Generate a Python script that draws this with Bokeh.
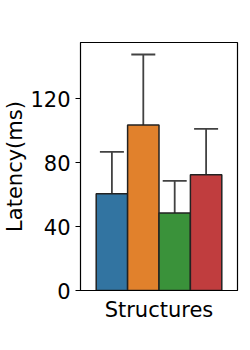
from bokeh.plotting import figure
from bokeh.models import ColumnDataSource, FactorRange, Range1d, Whisker, TeeHead, FixedTicker
from bokeh.transform import dodge
from bokeh.embed import file_html
from bokeh.resources import INLINE

category = ["Structures"]
series = ["s1", "s2", "s3", "s4"]
means = [60.4, 103.5, 48.5, 72.3]
lower = [34.2, 59.4, 29.4, 43.5]
upper = [86.7, 147.5, 68.5, 101.0]
colors = ["#3274a1", "#e1812c", "#3a923a", "#c03d3e"]
y_ticks = [0, 40, 80, 120]

FONT = "DejaVu Sans"

p = figure(x_range=FactorRange(factors=category, range_padding=0),
           y_range=Range1d(0, 155),
           width=240, height=334,
           min_border_left=71, min_border_right=3,
           min_border_top=42, min_border_bottom=44,
           output_backend="svg", toolbar_location=None)

p.grid.visible = False
p.outline_line_color = "black"
p.outline_line_width = 1.2
p.background_fill_color = "white"
p.border_fill_color = "white"

bw = 0.8 / len(series)
for i, s in enumerate(series):
    off = (i - (len(series) - 1) / 2) * bw
    src = ColumnDataSource(dict(x=category, top=[means[i]],
                                lower=[lower[i]], upper=[upper[i]]))
    p.vbar(x=dodge("x", off, range=p.x_range), top="top", bottom=0,
           width=bw, source=src, fill_color=colors[i],
           line_color="#222222", line_width=1.5)
    w = Whisker(source=src, base=dodge("x", off, range=p.x_range),
                upper="upper", lower="lower",
                line_color="#424242", line_width=1.8,
                upper_head=TeeHead(size=24, line_color="#424242", line_width=1.8),
                lower_head=TeeHead(size=24, line_color="#424242", line_width=1.8))
    p.add_layout(w)

p.yaxis.ticker = FixedTicker(ticks=y_ticks)
p.yaxis.minor_tick_line_color = None
p.yaxis.major_tick_out = 5
p.yaxis.major_tick_in = 0
p.yaxis.major_label_text_font = FONT
p.yaxis.major_label_text_font_size = "21px"
p.yaxis.major_label_text_color = "black"
p.yaxis.major_label_standoff = 5
p.yaxis.axis_label = "Latency(ms)"
p.yaxis.axis_label_text_font = FONT
p.yaxis.axis_label_text_font_size = "21px"
p.yaxis.axis_label_text_font_style = "normal"
p.yaxis.axis_label_text_color = "black"
p.yaxis.axis_label_standoff = 0
p.yaxis.axis_line_color = "black"

p.xaxis.major_tick_line_color = None
p.xaxis.minor_tick_line_color = None
p.xaxis.major_label_text_font = FONT
p.xaxis.major_label_text_font_size = "21px"
p.xaxis.major_label_text_color = "black"
p.xaxis.major_label_standoff = 1
p.xaxis.axis_line_color = "black"

open("out.html", "w").write(file_html(p, INLINE))
